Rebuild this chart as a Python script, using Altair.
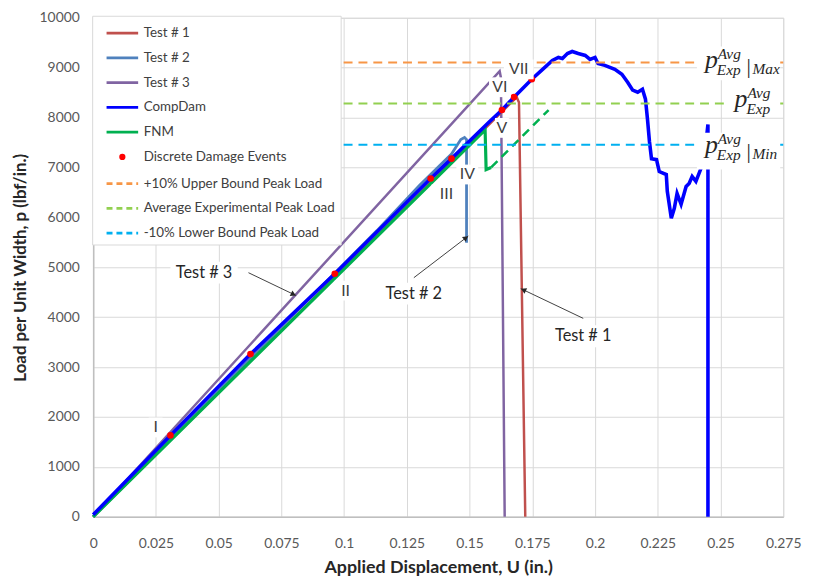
import math
import altair as alt
import pandas as pd

# ---------------- layout constants ----------------
W, H = 697, 504
X_MAX, Y_MAX = 0.275, 10000
PPX = W / X_MAX      # pixels per inch on x
PPY = H / Y_MAX      # pixels per lbf/in on y

# ---------------- data ----------------
series_names = ["Test # 1", "Test # 2", "Test # 3", "CompDam", "FNM",
                "Discrete Damage Events", "+10% Upper Bound Peak Load",
                "Average Experimental Peak Load", "-10% Lower Bound Peak Load"]
series_colors = ["#C0504D", "#4F81BD", "#8064A2", "#0000FF", "#00B050",
                 "#FF0000", "#F79646", "#92D050", "#00B0F0"]

test1_x = [0, 0.1688, 0.1697, 0.1722]
test1_y = [0, 8410, 8300, 0]
test2_x = [0, 0.113, 0.130, 0.1428, 0.1465, 0.1480, 0.1488, 0.1488]
test2_y = [0, 5730, 6640, 7270, 7560, 7600, 7560, 5490]
test3_x = [0, 0.1620, 0.1625, 0.1640]
test3_y = [0, 8930, 8800, 0]
compdam_x = [0, 0.0308, 0.0627, 0.0963, 0.1345, 0.1428, 0.1500, 0.1578, 0.1629,
             0.1677, 0.1748, 0.1790, 0.1830, 0.1854, 0.1870, 0.1890, 0.1909,
             0.1933, 0.1961, 0.1980, 0.2000, 0.2012, 0.2039, 0.2079, 0.2107,
             0.2130, 0.2150, 0.2170, 0.2189, 0.2201, 0.2209, 0.2217, 0.2225,
             0.2245, 0.2256, 0.2284, 0.2288, 0.2304, 0.2316, 0.2327, 0.2343,
             0.2363, 0.2375, 0.2387, 0.2402, 0.2422, 0.2440, 0.2450, 0.2450]
compdam_y = [40, 1630, 3260, 4871, 6779, 7177, 7530, 7912, 8151,
             8410, 8767, 8960, 9145, 9205, 9185, 9284, 9324,
             9284, 9245, 9165, 9205, 9085, 9046, 8966, 8867,
             8708, 8549, 8509, 8569, 8370, 7972, 7515, 7177,
             7157, 6918, 6859, 6521, 5984, 6183, 6481, 6262,
             6620, 6680, 6819, 6720, 6978, 7400, 7860, 0]
fnm_x = [0, 0.1562, 0.1566, 0.1586]
fnm_y = [0, 7753, 6958, 7000]
fnm_dash_x = [0.1586, 0.1815]
fnm_dash_y = [7000, 8151]
events_x = [0.0308, 0.0627, 0.0963, 0.1345, 0.1428, 0.1629, 0.1677, 0.1748]
events_y = [1630, 3260, 4871, 6779, 7177, 8151, 8410, 8767]
ref_names = ["+10% Upper Bound Peak Load", "Average Experimental Peak Load",
             "-10% Lower Bound Peak Load"]
ref_y = [9105, 8280, 7455]

x_ticks = [0, 0.025, 0.05, 0.075, 0.1, 0.125, 0.15, 0.175, 0.2, 0.225, 0.25, 0.275]
y_ticks = [0, 1000, 2000, 3000, 4000, 5000, 6000, 7000, 8000, 9000, 10000]

# annotations
numerals = ["I", "II", "III", "IV", "V", "VI", "VII"]
num_x = [0.0249, 0.1006, 0.1408, 0.1491, 0.1629, 0.1621, 0.1696]
num_y = [1789, 4533, 6461, 6859, 7793, 8608, 8966]
test_labels = ["Test # 3", "Test # 2", "Test # 1"]
test_lab_x = [0.0442, 0.1278, 0.1953]
test_lab_y = [4891, 4473, 3618]
arrow_x1 = [0.0619, 0.1278, 0.1953]
arrow_y1 = [4891, 4791, 3976]
arrow_x2 = [0.0809, 0.1495, 0.1704]
arrow_y2 = [4433, 5626, 4573]
plab_x = [0.2438, 0.2556, 0.2438]
plab_y = [8986, 8211, 7296]
plab_suffix = ["Max", "", "Min"]
plab_box_x1 = [0.2406, 0.2521, 0.2406]
plab_box_x2 = [0.2738, 0.2738, 0.2738]
plab_box_y1 = [8748, 8012, 6958]
plab_box_y2 = [9423, 8608, 7694]

# ---------------- frames ----------------
def line_df(name, xs, ys):
    return pd.DataFrame({"series": name, "x": xs, "y": ys, "i": list(range(len(xs)))})

ev_df = pd.DataFrame({"series": "Discrete Damage Events", "x": events_x, "y": events_y})
ref_df = pd.DataFrame({"series": ref_names, "y": ref_y})
fnm_dash_df = pd.DataFrame({"x": fnm_dash_x, "y": fnm_dash_y, "i": [0, 1]})

# label boxes (white backgrounds) built from label anchors
box_rows = []
for t, x, y in zip(numerals, num_x, num_y):
    hw, hh = 3 + 4 * len(t), 10
    box_rows.append(dict(x1=x - hw / PPX, x2=x + hw / PPX, y1=y - hh / PPY, y2=y + hh / PPY))
for t, x, y in zip(test_labels, test_lab_x, test_lab_y):
    hw, hh = 34, 11
    box_rows.append(dict(x1=x - hw / PPX, x2=x + hw / PPX, y1=y - hh / PPY, y2=y + hh / PPY))
for a, b, c, d in zip(plab_box_x1, plab_box_x2, plab_box_y1, plab_box_y2):
    box_rows.append(dict(x1=a, x2=b, y1=c, y2=d))
box_df = pd.DataFrame(box_rows)

num_df = pd.DataFrame({"t": numerals, "x": num_x, "y": num_y})
tl_df = pd.DataFrame({"t": test_labels, "x": test_lab_x, "y": test_lab_y})
arr_df = pd.DataFrame({"x": arrow_x1, "y": arrow_y1, "x2": arrow_x2, "y2": arrow_y2})
heads = []
for x1, y1, x2, y2 in zip(arrow_x1, arrow_y1, arrow_x2, arrow_y2):
    dxp = (x2 - x1) * PPX
    dyp = -(y2 - y1) * PPY
    ang = math.degrees(math.atan2(dyp, dxp)) % 360
    L = math.hypot(dxp, dyp)
    back = 3.0
    heads.append(dict(x=x2 - back * dxp / L / PPX, y=y2 + back * dyp / L / PPY, ang=ang))
head_df = pd.DataFrame(heads)
plab_df = pd.DataFrame({"x": plab_x, "y": plab_y, "s": plab_suffix,
                        "bar": ["|" if s else "" for s in plab_suffix]})

# ---------------- encodings ----------------
xscale = alt.Scale(domain=[0, X_MAX], nice=False, zero=False)
yscale = alt.Scale(domain=[0, Y_MAX], nice=False, zero=False)
xaxis = alt.Axis(values=x_ticks, format=".3~f", grid=True, gridColor="#D9D9D9",
                 domainColor="#BFBFBF", domainWidth=1.5, ticks=False, labelFlush=False,
                 labelOverlap=False, labelFont="Lato", labelFontSize=14,
                 labelColor="#595959", labelPadding=20,
                 title="Applied Displacement, U (in.)", titleFont="Lato",
                 titleFontSize=18, titleFontWeight="bold", titleColor="#262626",
                 titlePadding=8)
yaxis = alt.Axis(values=y_ticks, format="d", grid=True, gridColor="#D9D9D9",
                 domainColor="#BFBFBF", domainWidth=1.5, ticks=False, labelFlush=False,
                 labelOverlap=False, labelFont="Lato", labelFontSize=14,
                 labelColor="#595959", labelPadding=14,
                 title="Load per Unit Width, p (lbf/in.)", titleFont="Lato",
                 titleFontSize=17, titleFontWeight="bold", titleColor="#262626",
                 titlePadding=10)

def X(f="x"):
    return alt.X(f, type="quantitative", scale=xscale, axis=xaxis)

def Y(f="y"):
    return alt.Y(f, type="quantitative", scale=yscale, axis=yaxis)

dot_path = "M-0.15,0A0.15,0.15,0,1,1,0.15,0A0.15,0.15,0,1,1,-0.15,0Z"
seg_path = "M-1.45,0H1.45"
sym_expr = f"datum.value == 'Discrete Damage Events' ? '{dot_path}' : '{seg_path}'"
dash_expr = ("indexof(['+10% Upper Bound Peak Load','Average Experimental Peak Load',"
             "'-10% Lower Bound Peak Load'], datum.value) >= 0 ? [6,4] : []")

legend = alt.Legend(orient="none", legendX=-1, legendY=-2, fillColor="white",
                    strokeColor="#D9D9D9", padding=5, rowPadding=6,
                    symbolSize=484, symbolStrokeWidth=3,
                    symbolType=alt.ExprRef(expr=sym_expr),
                    symbolDash=alt.ExprRef(expr=dash_expr),
                    symbolOffset=13, labelOffset=9, labelFont="Lato",
                    labelFontSize=13.5, labelColor="#404040", labelLimit=400)
color_enc = alt.Color("series:N", scale=alt.Scale(domain=series_names, range=series_colors),
                      legend=legend, title=None)

# ---------------- layers ----------------
layers = []
for name, xs, ys, sw in [("Test # 3", test3_x, test3_y, 2.5),
                         ("Test # 1", test1_x, test1_y, 2.5),
                         ("Test # 2", test2_x, test2_y, 2.8),
                         ("FNM", fnm_x, fnm_y, 3.2),
                         ("CompDam", compdam_x, compdam_y, 3.6)]:
    layers.append(alt.Chart(line_df(name, xs, ys)).mark_line(strokeWidth=sw).encode(
        x=X(), y=Y(), color=color_enc, order=alt.Order("i:Q")))

fnm_dash = alt.Chart(fnm_dash_df).mark_line(strokeWidth=2.5, strokeDash=[9, 6], color="#00B050").encode(
    x=X(), y=Y(), order=alt.Order("i:Q"))
refs = alt.Chart(ref_df).mark_rule(strokeWidth=2, strokeDash=[9, 6]).encode(
    y=Y(), color=color_enc)
events = alt.Chart(ev_df).mark_circle(size=45, opacity=1).encode(
    x=X(), y=Y(), color=color_enc)

boxes = alt.Chart(box_df).mark_rect(color="white").encode(
    x=X("x1"), x2=alt.X2("x2"), y=Y("y1"), y2=alt.Y2("y2"))
arrows = alt.Chart(arr_df).mark_rule(color="#404040", strokeWidth=1).encode(
    x=X(), y=Y(), x2=alt.X2("x2"), y2=alt.Y2("y2"))
arrow_heads = alt.Chart(head_df).mark_point(shape="triangle-right", filled=True, size=38,
                                            color="#262626", opacity=1).encode(
    x=X(), y=Y(), angle=alt.Angle("ang:Q", scale=None))
num_text = alt.Chart(num_df).mark_text(font="Lato", fontSize=16, color="#404040").encode(
    x=X(), y=Y(), text="t:N")
tl_text = alt.Chart(tl_df).mark_text(font="Lato", fontSize=16.5, color="#262626").encode(
    x=X(), y=Y(), text="t:N")

serif = "Liberation Serif"
p_main = alt.Chart(plab_df).mark_text(font=serif, fontStyle="italic", fontSize=26, align="left",
                                      baseline="alphabetic", color="#262626").encode(
    x=X(), y=Y(), text=alt.value("p"))
p_sup = alt.Chart(plab_df).mark_text(font=serif, fontStyle="italic", fontSize=15.5, align="left",
                                     baseline="alphabetic", color="#262626", dx=13, dy=-9).encode(
    x=X(), y=Y(), text=alt.value("Avg"))
p_sub = alt.Chart(plab_df).mark_text(font=serif, fontStyle="italic", fontSize=15.5, align="left",
                                     baseline="alphabetic", color="#262626", dx=12, dy=7).encode(
    x=X(), y=Y(), text=alt.value("Exp"))
p_bar = alt.Chart(plab_df).mark_text(font=serif, fontSize=22, align="left",
                                     baseline="alphabetic", color="#262626", dx=42, dy=5).encode(
    x=X(), y=Y(), text="bar:N")
p_suf = alt.Chart(plab_df).mark_text(font=serif, fontStyle="italic", fontSize=15.5, align="left",
                                     baseline="alphabetic", color="#262626", dx=48, dy=6).encode(
    x=X(), y=Y(), text="s:N")

chart = alt.layer(
    *layers, fnm_dash, refs, events, boxes, arrows, arrow_heads,
    num_text, tl_text, p_main, p_sup, p_sub, p_bar, p_suf
).properties(
    width=W, height=H,
    padding={"left": 3, "top": 0, "right": 5, "bottom": 2}
).configure_view(
    stroke="#D9D9D9"
)

chart.save("out.html", embed_options={"renderer": "svg", "actions": False})
